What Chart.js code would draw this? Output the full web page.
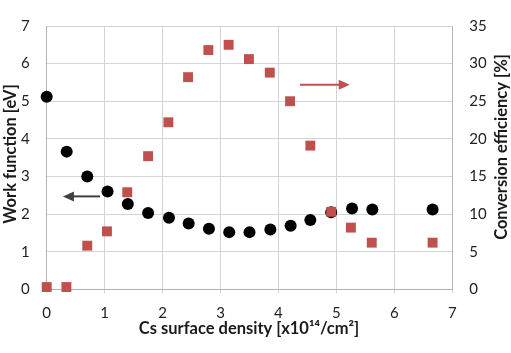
<!DOCTYPE html>
<html>
<head>
<meta charset="utf-8">
<script src="https://cdn.jsdelivr.net/npm/chart.js@4.4.1/dist/chart.umd.min.js"></script>
<style>
  html, body { margin: 0; padding: 0; background: #fff; }
  #wrap { width: 511px; height: 353px; }
</style>
</head>
<body>
<div id="wrap"><canvas id="csChart" width="511" height="353"></canvas></div>
<script>
// Cs surface density [x10^14/cm2]
const wfX = [0, 0.345, 0.70, 1.05, 1.40, 1.75, 2.11, 2.45, 2.80, 3.15, 3.50, 3.86, 4.21, 4.55, 4.91, 5.27, 5.62, 6.66];
// work function [eV]
const wfY = [5.12, 3.66, 3.00, 2.60, 2.27, 2.03, 1.90, 1.75, 1.61, 1.52, 1.52, 1.59, 1.69, 1.84, 2.05, 2.15, 2.12, 2.12];

const effX = [0, 0.34, 0.70, 1.04, 1.39, 1.75, 2.10, 2.44, 2.79, 3.14, 3.49, 3.85, 4.20, 4.55, 4.91, 5.25, 5.61, 6.66];
// conversion efficiency [%]
const effY = [0.3, 0.3, 5.8, 7.7, 12.9, 17.7, 22.2, 28.2, 31.8, 32.5, 30.6, 28.8, 25.0, 19.1, 10.3, 8.2, 6.2, 6.2];

const xTicks = [0, 1, 2, 3, 4, 5, 6, 7];

const FONT = 'Lato, "Open Sans", sans-serif';
const RED = '#C0504D';

// arrows showing which axis each series belongs to (data units)
const arrowDefs = [
    { axis: 'y', from: 0.92, to: 0.28, at: 2.47, color: '#404040' },
    { axis: 'y1', from: 4.37, to: 5.23, at: 27.2, color: RED }
];

// axis titles, both y titles read bottom-to-top
const titles = [
    { text: 'Cs surface density [x10¹⁴/cm²]', x: 249, y: 329, rot: 0 },
    { text: 'Work function [eV]', x: 11, y: 154, rot: -Math.PI / 2 },
    { text: 'Conversion efficiency [%]', x: 502, y: 147, rot: -Math.PI / 2 }
];

const extras = {
    id: 'extras',
    afterDatasetsDraw(chart) {
        const ctx = chart.ctx;
        const xs = chart.scales.x;
        arrowDefs.forEach(a => {
            const ys = chart.scales[a.axis];
            const x0 = xs.getPixelForValue(a.from);
            const x1 = xs.getPixelForValue(a.to);
            const y = ys.getPixelForValue(a.at);
            const dir = Math.sign(x1 - x0);
            ctx.save();
            ctx.strokeStyle = a.color;
            ctx.fillStyle = a.color;
            ctx.lineWidth = 2;
            ctx.beginPath();
            ctx.moveTo(x0, y);
            ctx.lineTo(x1 - dir * 8, y);
            ctx.stroke();
            ctx.beginPath();
            ctx.moveTo(x1, y);
            ctx.lineTo(x1 - dir * 11, y - 5);
            ctx.lineTo(x1 - dir * 11, y + 5);
            ctx.closePath();
            ctx.fill();
            ctx.restore();
        });
    },
    afterDraw(chart) {
        const ctx = chart.ctx;
        titles.forEach(t => {
            ctx.save();
            ctx.font = 'bold 16.5px ' + FONT;
            ctx.translate(t.x, t.y);
            ctx.rotate(t.rot);
            ctx.fillStyle = '#1a1a1a';
            ctx.textAlign = 'center';
            ctx.textBaseline = 'middle';
            ctx.fillText(t.text, 0, 0);
            ctx.restore();
        });
    }
};

const ctx = document.getElementById('csChart').getContext('2d');
new Chart(ctx, {
    type: 'scatter',
    data: {
        datasets: [{
            label: 'Conversion efficiency',
            data: effX.map((x, i) => ({ x: x, y: effY[i] })),
            yAxisID: 'y1',
            pointStyle: 'rect',
            pointRadius: 7,
            pointHoverRadius: 7,
            backgroundColor: RED,
            borderColor: RED,
            borderWidth: 0,
            clip: false
        }, {
            label: 'Work function',
            data: wfX.map((x, i) => ({ x: x, y: wfY[i] })),
            yAxisID: 'y',
            pointStyle: 'circle',
            pointRadius: 6,
            pointHoverRadius: 6,
            backgroundColor: '#000',
            borderColor: '#000',
            borderWidth: 0,
            clip: false
        }]
    },
    options: {
        responsive: false,
        animation: false,
        layout: { padding: { top: 10, left: 0, right: 0, bottom: 0 } },
        plugins: {
            legend: { display: false },
            tooltip: { enabled: false }
        },
        scales: {
            x: {
                type: 'linear',
                min: 0,
                max: 7,
                afterBuildTicks: s => { s.ticks = xTicks.map(v => ({ value: v })); },
                afterFit: s => { s.height = 63.7; },
                grid: { color: '#d4d4d4', tickLength: 4 },
                border: { color: '#b4b4b4' },
                ticks: { color: '#222', padding: 11, font: { family: FONT, size: 15 } }
            },
            y: {
                position: 'left',
                min: 0,
                max: 7,
                afterFit: s => { s.width = 46.7; },
                grid: { color: '#d4d4d4', drawTicks: false },
                border: { color: '#b4b4b4' },
                ticks: { stepSize: 1, color: '#222', padding: 17, font: { family: FONT, size: 15 } }
            },
            y1: {
                position: 'right',
                min: 0,
                max: 35,
                afterFit: s => { s.width = 58.7; },
                grid: { drawOnChartArea: false, drawTicks: false },
                border: { color: '#b4b4b4' },
                ticks: { stepSize: 5, color: '#222', padding: 17, font: { family: FONT, size: 15 } }
            }
        }
    },
    plugins: [extras]
});
</script>
</body>
</html>
